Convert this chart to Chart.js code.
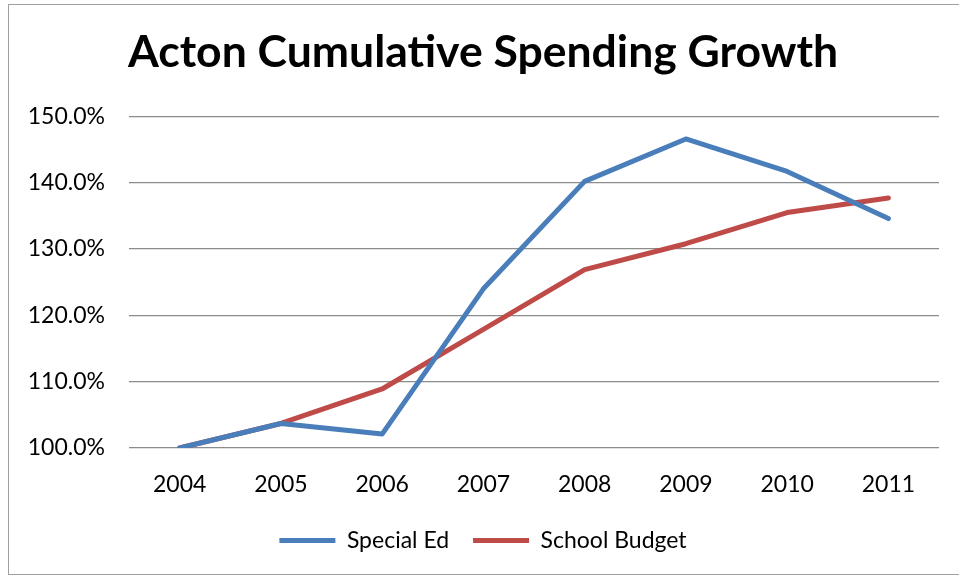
<!DOCTYPE html>
<html lang="en">
<head>
<meta charset="UTF-8" />
<title>Acton Cumulative Spending Growth</title>
<script src="https://cdn.jsdelivr.net/npm/chart.js@4.4.0/dist/chart.umd.min.js"></script>
<style>
  html,body{margin:0;padding:0;background:#fff;overflow:hidden}
  .frame{position:absolute;left:8px;top:4px;width:980px;height:571px;border:1.5px solid #a0a0a0;box-sizing:border-box}
  .box{position:absolute;left:0;top:0;width:959px;height:578px}
</style>
</head>
<body>
<div class="frame"></div>
<div class="box"><canvas id="growth" width="959" height="578"></canvas></div>

<script>
// cumulative growth vs. 2004 baseline, in percent
const years = ['2004','2005','2006','2007','2008','2009','2010','2011'];
const specialEd = [100.0, 103.7, 102.1, 124.0, 140.2, 146.6, 141.7, 134.6];
const schoolBudget = [100.0, 103.7, 108.9, 117.9, 126.9, 130.8, 135.5, 137.7];
const yTicks = [100, 110, 120, 130, 140, 150];

const FONT = 'Lato, "Open Sans", sans-serif';
const BLUE = '#4a7ebb', RED = '#be4b48';

const line = (label, data, color) => ({
  label, data, borderColor: color, backgroundColor: color,
  borderWidth: 5, pointRadius: 0, tension: 0,
  borderCapStyle: 'round', borderJoinStyle: 'round'
});

new Chart(document.getElementById('growth'), {
  type: 'line',
  data: {
    labels: years,
    datasets: [line('Special Ed', specialEd, BLUE), line('School Budget', schoolBudget, RED)]
  },
  options: {
    responsive: false,
    animation: false,
    devicePixelRatio: 1,
    layout: {padding: {left: 27, right: 20, top: 0, bottom: 16}},
    plugins: {
      title: {
        display: true, text: 'Acton Cumulative Spending Growth', color: '#000',
        font: {family: FONT, size: 44.5, weight: 'bold'},
        padding: {top: 26, bottom: 37}
      },
      legend: {
        position: 'bottom',
        labels: {
          color: '#000', font: {family: FONT, size: 23},
          boxWidth: 56, boxHeight: 5, padding: 24,
          // flat swatch: plain bar in the series colour, no outline
          generateLabels: c => Chart.defaults.plugins.legend.labels.generateLabels(c)
            .map(l => ({...l, lineWidth: 0}))
        }
      },
      tooltip: {enabled: false}
    },
    scales: {
      x: {
        offset: true,
        grid: {display: false, drawTicks: false},
        border: {display: false},
        ticks: {color: '#000', font: {family: FONT, size: 23}, padding: 23, maxRotation: 0},
        afterFit: s => { s.height = 57; }
      },
      y: {
        min: 100, max: 150,
        afterBuildTicks: s => { s.ticks = yTicks.map(v => ({value: v})); },
        grid: {color: '#8c8c8c', lineWidth: 1.3, drawTicks: false},
        border: {display: false},
        ticks: {color: '#000', font: {family: FONT, size: 23}, padding: 24,
          callback: v => v.toFixed(1) + '%'},
        afterFit: s => { s.width = 102; }
      }
    }
  }
});
</script>
</body>
</html>
